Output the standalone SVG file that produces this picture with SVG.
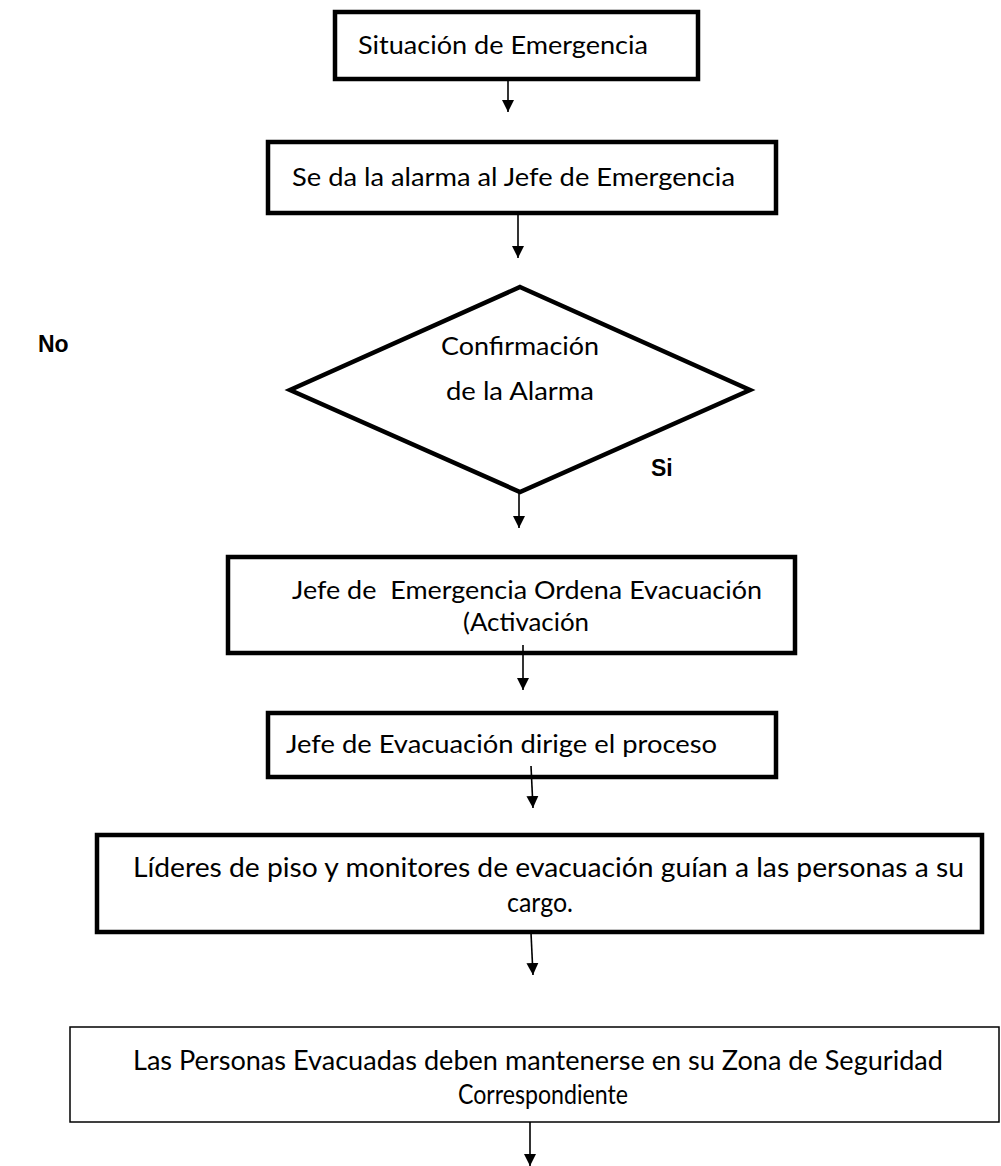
<svg xmlns="http://www.w3.org/2000/svg" width="1001" height="1166" viewBox="0 0 1001 1166">
<style>
.box{fill:#fff;stroke:#000;stroke-width:4.5}
.thin{fill:#fff;stroke:#000;stroke-width:1.5}
.t{font-family:Lato,"Liberation Sans",sans-serif;font-size:25px;fill:#000}
.t.n{font-size:27px}
.b{font-family:"Liberation Sans",Arial,sans-serif;font-size:23px;font-weight:bold;fill:#000}
.c{stroke:#000;stroke-width:1.6;fill:none}
</style>
<defs>
<marker id="a" markerUnits="userSpaceOnUse" markerWidth="12" markerHeight="14" viewBox="0 0 12 14" refX="12" refY="7" orient="auto">
<path d="M0,1 L12,7 L0,13 Z" fill="#000"/>
</marker>
</defs>
<g id="n1"><rect class="box" x="335" y="12" width="363" height="67"/><text class="t" x="358" y="54" textLength="290" lengthAdjust="spacingAndGlyphs">Situación de Emergencia</text></g>
<g id="n2"><rect class="box" x="268" y="142" width="508" height="71"/><text class="t" x="292" y="186" textLength="443" lengthAdjust="spacingAndGlyphs">Se da la alarma al Jefe de Emergencia</text></g>
<g id="n3"><polygon class="box" points="520,287 750,390 520,492 290,390"/><text class="t" x="441" y="355" textLength="158" lengthAdjust="spacingAndGlyphs">Confirmación</text><text class="t" x="446" y="400" textLength="148" lengthAdjust="spacingAndGlyphs">de la Alarma</text></g>
<g id="n4"><rect class="box" x="228" y="557" width="567" height="96"/><text class="t" x="292" y="599" textLength="470" lengthAdjust="spacingAndGlyphs" xml:space="preserve">Jefe de  Emergencia Ordena Evacuación</text><text class="t" x="463" y="631" textLength="126" lengthAdjust="spacingAndGlyphs">(Activación</text></g>
<g id="n5"><rect class="box" x="268" y="713" width="508" height="64"/><text class="t" x="286" y="753" textLength="431" lengthAdjust="spacingAndGlyphs">Jefe de Evacuación dirige el proceso</text></g>
<g id="n6"><rect class="box" x="97" y="835" width="885" height="97"/><text class="t n" x="133" y="877" textLength="831" lengthAdjust="spacingAndGlyphs">Líderes de piso y monitores de evacuación guían a las personas a su</text><text class="t n" x="507" y="912" textLength="66" lengthAdjust="spacingAndGlyphs">cargo.</text></g>
<g id="n7"><rect class="thin" x="70" y="1027" width="929" height="95"/><text class="t n" x="133" y="1070" textLength="810" lengthAdjust="spacingAndGlyphs">Las Personas Evacuadas deben mantenerse en su Zona de Seguridad</text><text class="t n" x="458" y="1104" textLength="170" lengthAdjust="spacingAndGlyphs">Correspondiente</text></g>
<g id="labels"><text class="b" x="38" y="352">No</text><text class="b" x="651" y="476">Si</text></g>
<g id="connectors">
<line class="c" x1="508" y1="80" x2="508" y2="112" marker-end="url(#a)"/>
<line class="c" x1="518" y1="214" x2="518" y2="258" marker-end="url(#a)"/>
<line class="c" x1="519" y1="490" x2="519" y2="528" marker-end="url(#a)"/>
<line class="c" x1="523" y1="645" x2="523" y2="690" marker-end="url(#a)"/>
<line class="c" x1="531" y1="766" x2="533" y2="808" marker-end="url(#a)"/>
<line class="c" x1="531" y1="933" x2="533" y2="975" marker-end="url(#a)"/>
<line class="c" x1="530" y1="1122" x2="530" y2="1166" marker-end="url(#a)"/>
</g>
</svg>
